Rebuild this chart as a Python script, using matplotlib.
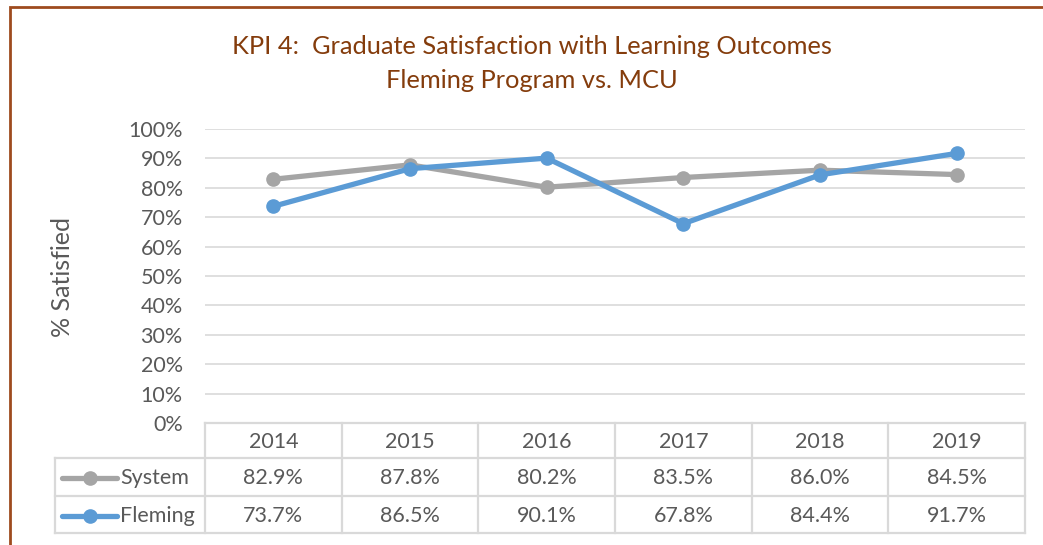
import matplotlib.pyplot as plt
from matplotlib.lines import Line2D
from matplotlib.patches import Rectangle
import matplotlib.transforms as mtransforms

plt.rcParams['font.family'] = ['Lato', 'DejaVu Sans']

years = ["2014", "2015", "2016", "2017", "2018", "2019"]
system = [82.9, 87.8, 80.2, 83.5, 86.0, 84.5]
fleming = [73.7, 86.5, 90.1, 67.8, 84.4, 91.7]
series_names = ["System", "Fleming"]
series_colors = ["#A5A5A5", "#5B9BD5"]
title_lines = ["KPI 4:  Graduate Satisfaction with Learning Outcomes", "Fleming Program vs. MCU"]

W, H = 1043, 545
TEXT = "#595959"
GRID = "#D9D9D9"
FS = 15.5


def fx(px):
    return px / W


def fy(py):
    return 1 - py / H


fig = plt.figure(figsize=(W / 100, H / 100), dpi=100)
ax = fig.add_axes([fx(205), fy(423), 820 / W, 294 / H])

xs = list(range(len(years)))
for vals, col in zip([system, fleming], series_colors):
    ax.plot(xs, [v / 100 for v in vals], color=col, lw=3.8, marker='o',
            markersize=9.5, solid_capstyle='round', zorder=3)

ax.set_xlim(-0.5, len(years) - 0.5)
ax.set_ylim(0, 1.0)
ax.set_yticks([i / 10 for i in range(11)])
ax.set_yticklabels([f"{i * 10}%" for i in range(11)])
ax.tick_params(axis='y', length=0, pad=16, labelsize=FS, labelcolor=TEXT)
ax.set_xticks([])
ax.grid(axis='y', color=GRID, lw=1.2)
ax.set_axisbelow(True)
for s in ax.spines.values():
    s.set_visible(False)

# y label
fig.text(fx(62), fy(277), "% Satisfied", rotation=90, ha='center', va='center',
         fontsize=18, color=TEXT)

# title
title_color = "#843C0C"
fig.text(fx(532), fy(46), title_lines[0], ha='center', va='center', fontsize=18.3, color=title_color)
fig.text(fx(532), fy(80), title_lines[1], ha='center', va='center', fontsize=18.3, color=title_color)

# data table
tr = mtransforms.blended_transform_factory(ax.transData, fig.transFigure)
row_y = [423, 458, 496, 533]
for i in range(len(years) + 1):
    ax.add_line(Line2D([i - 0.5, i - 0.5], [fy(423), fy(533)], transform=tr,
                       color=GRID, lw=1.6, clip_on=False))
ax.add_line(Line2D([-0.5, len(years) - 0.5], [fy(423), fy(423)], transform=tr,
                   color=GRID, lw=1.6, clip_on=False))
for ry in row_y[1:]:
    fig.add_artist(Line2D([fx(55), fx(1025)], [fy(ry), fy(ry)], color=GRID, lw=1.6))
fig.add_artist(Line2D([fx(55), fx(55)], [fy(458), fy(533)], color=GRID, lw=1.6))

for i, yr in enumerate(years):
    ax.text(i, fy(441.5), yr, transform=tr, ha='center', va='center', fontsize=FS, color=TEXT)

for vals, name, col, ry in zip([system, fleming], series_names, series_colors, [478.5, 516.5]):
    for i, v in enumerate(vals):
        ax.text(i, fy(ry), f"{v:.1f}%", transform=tr, ha='center', va='center',
                fontsize=FS, color=TEXT)
    fig.add_artist(Line2D([fx(62), fx(89.5), fx(117)], [fy(ry - 1)] * 3, color=col, lw=3.8,
                          marker='o', markersize=9.5, markevery=[1], solid_capstyle='round'))
    fig.text(fx(120), fy(ry), name, ha='left', va='center', fontsize=FS, color=TEXT)

# outer border
fig.add_artist(Rectangle((fx(10), -0.1), 1.2, fy(7) + 0.1, fill=False,
                         edgecolor="#9E4B1E", lw=2.0, transform=fig.transFigure))

fig.savefig("out.png", dpi=100)
